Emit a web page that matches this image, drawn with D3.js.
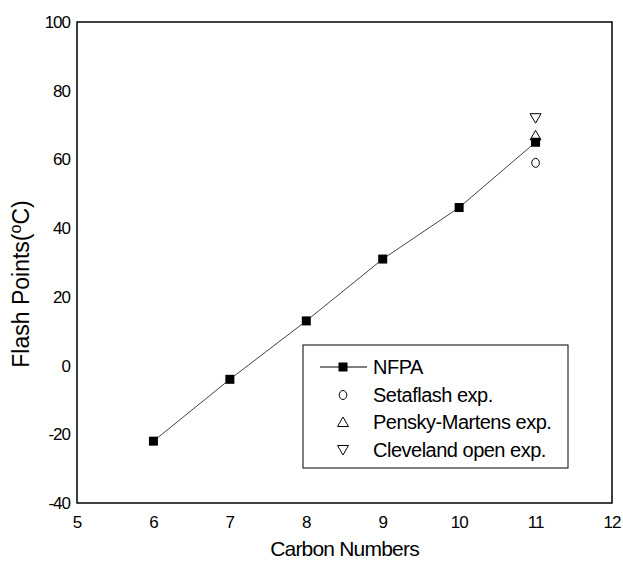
<!DOCTYPE html>
<html>
<head>
<meta charset="utf-8">
<script src="https://cdn.jsdelivr.net/npm/d3@7"></script>
<style>
  body { margin: 0; background: #fff; }
  text { font-family: "Liberation Sans", Arial, sans-serif; }
</style>
</head>
<body>
<div id="chart"></div>
<script>
var carbon = [6, 7, 8, 9, 10, 11];
var nfpa = [-22, -4, 13, 31, 46, 65];
var setaflash = [[11, 59]];
var pensky = [[11, 67]];
var cleveland = [[11, 72]];
var xTicks = [5, 6, 7, 8, 9, 10, 11, 12];
var yTicks = [-40, -20, 0, 20, 40, 60, 80, 100];
var legendNames = ["NFPA", "Setaflash exp.", "Pensky-Martens exp.", "Cleveland open exp."];

var width = 623;
var height = 568;
var margin = { top: 22, left: 77, bottom: 65, right: 11 };

var svg = d3.select('#chart')
            .append('svg')
            .attr('width', width)
            .attr('height', height);

var x = d3.scaleLinear()
          .domain([5, 12])
          .range([margin.left, width - margin.right]);
var y = d3.scaleLinear()
          .domain([-40, 100])
          .range([height - margin.bottom, margin.top]);

// frame
svg.append('rect')
    .attr('x', x(5))
    .attr('y', y(100))
    .attr('width', x(12) - x(5))
    .attr('height', y(-40) - y(100))
    .attr('fill', 'none')
    .attr('stroke', '#000')
    .attr('stroke-width', 1.5);

// tick labels
svg.selectAll('.xt')
    .data(xTicks)
    .enter()
    .append('text')
    .attr('x', function(d){ return x(d); })
    .attr('y', y(-40) + 25)
    .style('text-anchor', 'middle')
    .style('font-size', '17px')
    .style('letter-spacing', '-1px')
    .text(function(d){ return d; });

svg.selectAll('.yt')
    .data(yTicks)
    .enter()
    .append('text')
    .attr('x', x(5) - 7)
    .attr('y', function(d){ return y(d) + 6; })
    .style('text-anchor', 'end')
    .style('font-size', '17px')
    .style('letter-spacing', '-1px')
    .text(function(d){ return d; });

// axis titles
svg.append('text')
    .attr('x', (x(5) + x(12)) / 2)
    .attr('y', 556)
    .style('text-anchor', 'middle')
    .style('font-size', '21px')
    .style('letter-spacing', '-0.8px')
    .text('Carbon Numbers');

var yl = svg.append('text')
    .attr('transform', 'translate(29,284) rotate(-90)')
    .style('text-anchor', 'middle')
    .style('font-size', '23px');
yl.append('tspan').text('Flash Points(');
yl.append('tspan').attr('dy', -8).style('font-size', '16px').text('o');
yl.append('tspan').attr('dy', 8).text('C)');

// NFPA line
var line = d3.line()
    .x(function(d){ return x(d[0]); })
    .y(function(d){ return y(d[1]); });
var nfpaPts = carbon.map(function(c, i){ return [c, nfpa[i]]; });

svg.append('path')
    .datum(nfpaPts)
    .attr('d', line)
    .attr('fill', 'none')
    .attr('stroke', '#444')
    .attr('stroke-width', 1);

function square(g, cx, cy) {
    g.append('rect')
        .attr('x', cx - 4.5).attr('y', cy - 4.5)
        .attr('width', 9).attr('height', 9)
        .attr('fill', '#000');
}
function circle(g, cx, cy) {
    g.append('ellipse')
        .attr('cx', cx).attr('cy', cy)
        .attr('rx', 3.8).attr('ry', 4.5)
        .attr('fill', 'none').attr('stroke', '#000').attr('stroke-width', 1);
}
function triUp(g, cx, cy) {
    g.append('path')
        .attr('d', 'M' + cx + ',' + (cy - 5) + 'L' + (cx + 5.5) + ',' + (cy + 4.5) + 'L' + (cx - 5.5) + ',' + (cy + 4.5) + 'Z')
        .attr('fill', 'none').attr('stroke', '#000').attr('stroke-width', 1);
}
function triDown(g, cx, cy) {
    g.append('path')
        .attr('d', 'M' + cx + ',' + (cy + 5) + 'L' + (cx + 5.5) + ',' + (cy - 4.5) + 'L' + (cx - 5.5) + ',' + (cy - 4.5) + 'Z')
        .attr('fill', 'none').attr('stroke', '#000').attr('stroke-width', 1);
}

var marks = svg.append('g');
cleveland.forEach(function(d){ triDown(marks, x(d[0]), y(d[1])); });
pensky.forEach(function(d){ triUp(marks, x(d[0]), y(d[1])); });
setaflash.forEach(function(d){ circle(marks, x(d[0]), y(d[1])); });
nfpaPts.forEach(function(d){ square(marks, x(d[0]), y(d[1])); });

// legend
var lg = svg.append('g');
lg.append('rect')
    .attr('x', 303).attr('y', 345)
    .attr('width', 265).attr('height', 123)
    .attr('fill', '#fff')
    .attr('stroke', '#000')
    .attr('stroke-width', 1);

var rowY = [367, 395, 422, 450];
lg.append('line')
    .attr('x1', 320).attr('x2', 367)
    .attr('y1', rowY[0]).attr('y2', rowY[0])
    .attr('stroke', '#000').attr('stroke-width', 1);
square(lg, 343, rowY[0]);
circle(lg, 343, rowY[1]);
triUp(lg, 343, rowY[2]);
triDown(lg, 343, rowY[3]);

lg.selectAll('.lt')
    .data(legendNames)
    .enter()
    .append('text')
    .attr('x', 373)
    .attr('y', function(d, i){ return rowY[i] + 7; })
    .style('font-size', '20px')
    .style('letter-spacing', '-0.5px')
    .text(function(d){ return d; });
</script>
</body>
</html>
